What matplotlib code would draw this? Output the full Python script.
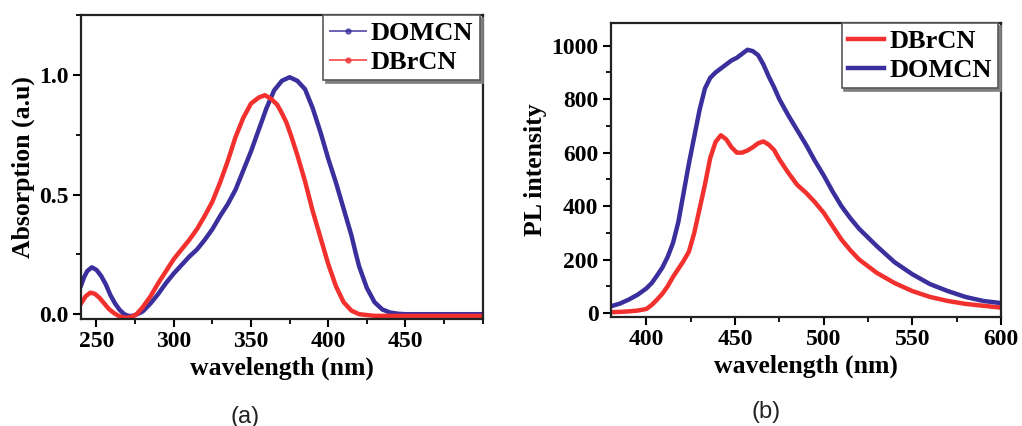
import matplotlib.pyplot as plt
from matplotlib.lines import Line2D
from matplotlib.ticker import MultipleLocator

# absorption spectra (a)
abs_wl = [240, 242, 244, 247, 250, 253, 256, 259, 262, 265, 268, 271, 274, 277, 280, 285,
          290, 295, 300, 305, 310, 315, 320, 325, 330, 335, 340, 345, 350, 355, 360, 365,
          370, 375, 380, 385, 390, 395, 400, 405, 410, 415, 418, 420, 425, 430, 435, 440,
          445, 450, 500]
abs_domcn = [0.12, 0.155, 0.18, 0.196, 0.185, 0.16, 0.125, 0.08, 0.045, 0.018, 0.0, -0.008,
             -0.006, 0.002, 0.012, 0.045, 0.085, 0.13, 0.17, 0.205, 0.24, 0.27, 0.31, 0.355,
             0.41, 0.46, 0.52, 0.6, 0.68, 0.77, 0.86, 0.935, 0.975, 0.99, 0.975, 0.94, 0.86,
             0.76, 0.65, 0.55, 0.44, 0.33, 0.25, 0.2, 0.11, 0.05, 0.02, 0.007, 0.002, 0.0, 0.0]

abs_wl_br = [240, 243, 246, 249, 252, 255, 258, 261, 264, 267, 270, 273, 276, 280, 285, 290,
             295, 300, 305, 310, 315, 320, 325, 330, 335, 340, 345, 350, 355, 359, 363, 367,
             370, 373, 376, 380, 385, 390, 395, 400, 405, 410, 415, 420, 430, 500]
abs_dbrcn = [0.045, 0.075, 0.09, 0.085, 0.068, 0.045, 0.022, 0.006, -0.006, -0.013, -0.015,
             -0.01, 0.0, 0.03, 0.075, 0.13, 0.18, 0.23, 0.27, 0.31, 0.355, 0.41, 0.47, 0.55,
             0.64, 0.74, 0.82, 0.88, 0.905, 0.915, 0.9, 0.875, 0.84, 0.8, 0.745, 0.665, 0.555,
             0.43, 0.32, 0.21, 0.117, 0.05, 0.015, 0.0, -0.007, -0.007]

# photoluminescence spectra (b)
pl_wl = [380, 385, 390, 395, 400, 403, 406, 409, 412, 415, 418, 421, 424, 427, 430, 433,
         436, 439, 442, 445, 448, 451, 454, 457, 460, 463, 466, 469, 472, 475, 480, 485,
         490, 495, 500, 505, 510, 515, 520, 530, 540, 550, 560, 570, 580, 590, 600]
pl_domcn = [25, 35, 50, 68, 92, 112, 140, 170, 210, 262, 340, 450, 560, 660, 760, 840,
            880, 900, 915, 930, 945, 955, 970, 985, 980, 965, 930, 885, 845, 800, 740, 685,
            630, 570, 515, 455, 400, 355, 315, 250, 190, 145, 108, 82, 60, 45, 37]
pl_dbrcn = [3, 4, 6, 9, 15, 30, 50, 72, 100, 135, 165, 195, 230, 300, 390, 480,
            580, 640, 665, 650, 620, 600, 600, 608, 620, 635, 642, 630, 610, 575, 525, 480,
            450, 415, 375, 325, 275, 235, 200, 150, 112, 82, 60, 45, 34, 27, 20]

blue = '#3a2f9c'
red = '#f2302e'
serif = 'Liberation Serif'

fig = plt.figure(figsize=(10.22, 4.26), dpi=100)
ax1 = fig.add_axes([0.0793, 0.2512, 0.393, 0.7136])
ax2 = fig.add_axes([0.5978, 0.2559, 0.3816, 0.690])


def style(ax):
    for s in ax.spines.values():
        s.set_linewidth(1.6)
        s.set_color('#222222')
    ax.tick_params(which='major', direction='out', length=6, width=1.5,
                   top=False, right=False, labelsize=17, pad=3)
    ax.tick_params(which='minor', direction='out', length=3.5, width=1.3,
                   top=False, right=False)
    for lab in ax.get_xticklabels() + ax.get_yticklabels():
        lab.set_fontfamily(serif)
        lab.set_fontweight('bold')


ax1.plot(abs_wl, abs_domcn, color=blue, lw=3.2)
ax1.plot(abs_wl_br, abs_dbrcn, color=red, lw=3.2)
ax1.set_xlim(240, 500)
ax1.set_ylim(-0.02, 1.25)
ax1.xaxis.set_minor_locator(MultipleLocator(25))
ax1.set_xticks([250, 300, 350, 400, 450])
ax1.yaxis.set_minor_locator(MultipleLocator(0.25))
ax1.set_yticks([0.0, 0.5, 1.0])
ax1.set_yticklabels(['0.0', '0.5', '1.0'])
style(ax1)
ax1.set_xlabel('wavelength (nm)', fontsize=18.5, fontfamily=serif, fontweight='bold', labelpad=3)
ax1.set_ylabel('Absorption (a.u)', fontsize=18.5, fontfamily=serif, fontweight='bold', labelpad=3)

h1 = [Line2D([0, 0.5, 1], [0, 0, 0], color=blue, lw=1.4, alpha=0.75, marker='o', ms=3.5,
             markevery=[1]),
      Line2D([0, 0.5, 1], [0, 0, 0], color=red, lw=1.4, alpha=0.75, marker='o', ms=3.5,
             markevery=[1])]
leg_kw = dict(loc='upper right', bbox_to_anchor=(0.993, 1.0), borderaxespad=0,
              fancybox=False, shadow={'color': '0.5', 'alpha': 1}, edgecolor='0.35',
              handlelength=1.35, handletextpad=0.2, borderpad=0.25, labelspacing=0.2,
              prop={'family': serif, 'weight': 'bold', 'size': 19})
leg1 = ax1.legend(h1, ['DOMCN', 'DBrCN'], **leg_kw)
leg1.get_frame().set_linewidth(1.2)

ax2.plot(pl_wl, pl_dbrcn, color=red, lw=3.2, label='DBrCN')
ax2.plot(pl_wl, pl_domcn, color=blue, lw=3.2, label='DOMCN')
ax2.set_xlim(380, 600)
ax2.set_ylim(-15, 1085)
ax2.xaxis.set_minor_locator(MultipleLocator(25))
ax2.yaxis.set_minor_locator(MultipleLocator(100))
ax2.set_xticks([400, 450, 500, 550, 600])
ax2.set_yticks([0, 200, 400, 600, 800, 1000])
style(ax2)
ax2.set_xlabel('wavelength (nm)', fontsize=18.5, fontfamily=serif, fontweight='bold', labelpad=3)
ax2.set_ylabel('PL intensity', fontsize=18.5, fontfamily=serif, fontweight='bold', labelpad=3)
leg2 = ax2.legend(**leg_kw)
leg2.get_frame().set_linewidth(1.2)

fig.text(0.2397, 0.008, '(a)', fontsize=17, fontfamily='Liberation Sans', ha='center', color='#222222')
fig.text(0.7495, 0.018, '(b)', fontsize=17, fontfamily='Liberation Sans', ha='center', color='#222222')

fig.savefig('out.png', dpi=100)
